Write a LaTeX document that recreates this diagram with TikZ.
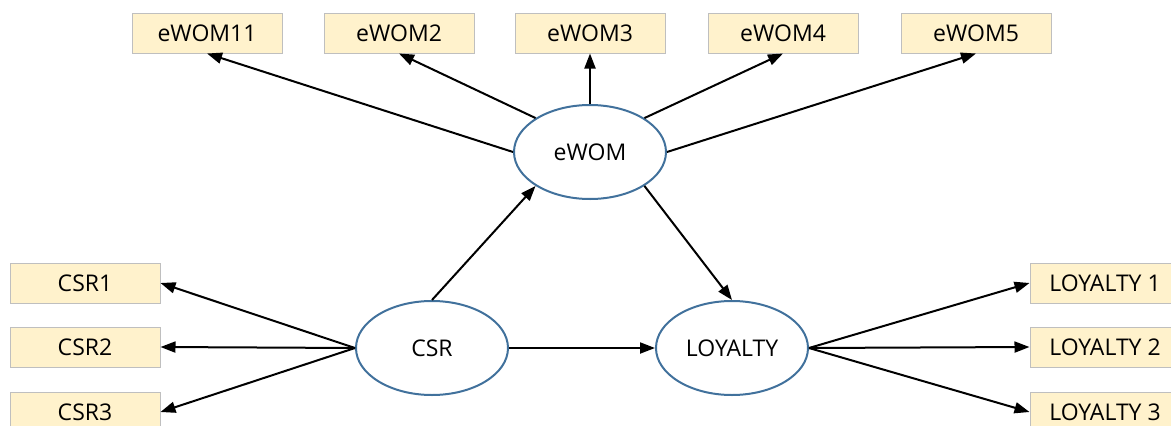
\documentclass[tikz,border=0pt]{standalone}
\usepackage{fontspec}
\setmainfont{Open Sans}
\usetikzlibrary{arrows.meta, positioning, shapes.geometric}
\definecolor{boxfill}{HTML}{FFF2CC}
\definecolor{boxline}{HTML}{BFBFBF}
\definecolor{latentline}{HTML}{41719C}
\tikzset{
    indicator/.style = {
        draw=boxline, fill=boxfill, rectangle, line width=1pt,
        minimum width=150pt, minimum height=40pt
    },
    latent/.style = {
        draw=latentline, ellipse, line width=2pt,
        minimum width=152pt, minimum height=94pt
    },
    link/.style = {
        line width=2pt, -{Triangle[length=15pt, width=11pt]}
    }
}

\begin{document}
\begin{tikzpicture}[x=1pt, y=-1pt, every node/.style={font={\fontsize{23}{26}\selectfont}}]
        \useasboundingbox (0,0) rectangle (1171,426);
        % Place the latent variables
        \node [latent] (ewom) at (590,152) {eWOM};
        \node [latent] (csr) at (432,348) {CSR};
        \node [latent] (loyalty) at (732,348) {LOYALTY};
        % Place the indicators
        \foreach \name/\x/\txt in {ew1/207/eWOM11, ew2/399/eWOM2, ew3/590/eWOM3, ew4/783/eWOM4, ew5/976/eWOM5}{
            \node [indicator] (\name) at (\x,33) {\txt};
        }
        \foreach \i/\y in {1/283, 2/347, 3/412}{
            \node [indicator] (csr\i) at (85,\y) {CSR\i};
            \node [indicator] (loy\i) at (1105,\y) {LOYALTY \i};
        }
        % Connect them
        \draw[link] (ewom.west) -- (ew1.south);
        \draw[link] (ewom.north west) -- (ew2.south);
        \draw[link] (ewom.north) -- (ew3.south);
        \draw[link] (ewom.north east) -- (ew4.south);
        \draw[link] (ewom.east) -- (ew5.south);
        \draw[link] (csr.north) -- (ewom.south west);
        \draw[link] (ewom.south east) -- (loyalty.north);
        \draw[link] (csr.east) -- (loyalty.west);
        \foreach \i in {1, 2, 3}{
            \draw[link] (csr.west) -- (csr\i.east);
            \draw[link] (loyalty.east) -- (loy\i.west);
        }
    \end{tikzpicture}
\end{document}
